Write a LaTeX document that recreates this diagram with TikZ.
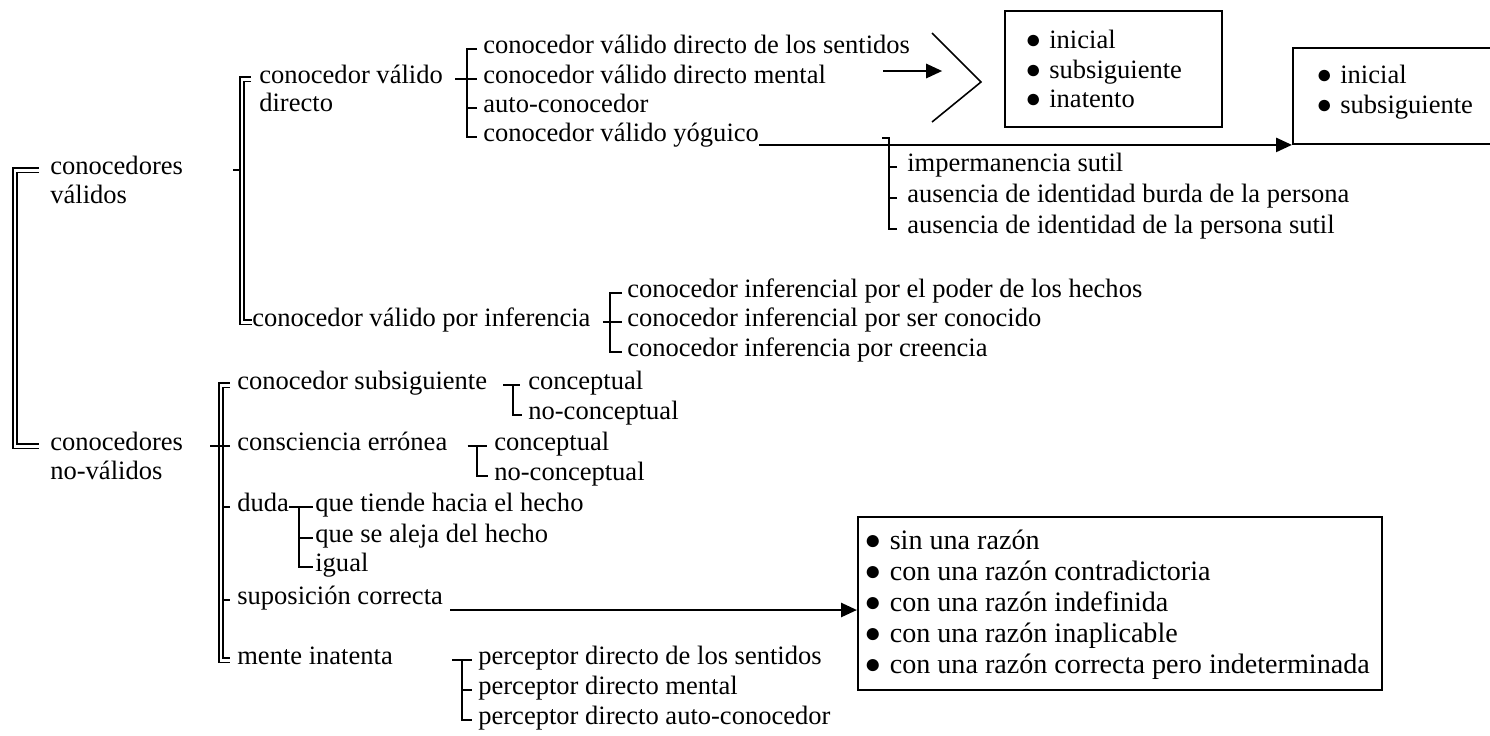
\documentclass[tikz,border=0pt]{standalone}
\usepackage{fontspec}
\setmainfont{Liberation Serif}
\usetikzlibrary{arrows.meta}
\newcommand{\bl}{●\hspace{0.3em}}

\begin{document}
\begin{tikzpicture}[x=0.02cm, y=-0.02cm,
    font=\fontsize{15.1pt}{18pt}\selectfont,
    lab/.style={inner sep=0pt, anchor=west, text height=1ex, text depth=0pt},
    brk/.style={draw=black, line width=1.1pt},
    dbl/.style={draw=black, double, line width=0.7pt, double distance=1.7pt},
    thn/.style={draw=black, line width=0.9pt},
    arr/.style={draw=black, line width=1.5pt, -{Triangle[length=0.32cm,width=0.28cm]}},
    box/.style={draw=black, line width=1.1pt, anchor=north west, inner sep=0pt},
    lst/.style={anchor=west, align=left, inner sep=0pt}]
  \useasboundingbox (0,0) rectangle (1490,735);

  % first level
  \node[lab] (cv)  at (50,170) {conocedores};
  \node[lab] (cv2) at (50,199) {válidos};
  \node[lab] (cn)  at (50,446) {conocedores};
  \node[lab] (cn2) at (50,475) {no-válidos};
  \coordinate (sp0) at (15,0);
  \draw[dbl] ([xshift=-0.22cm]cv.west) -- (cv.west -| sp0) -- (cn.west -| sp0)
        -- ([xshift=-0.22cm]cn.west);

  % valid knowers
  \node[lab] (cvd)  at (259,79)  {conocedor válido};
  \node[lab] (cvd2) at (259,107) {directo};
  \node[lab] (cvi)  at (252,322) {conocedor válido por inferencia};
  \coordinate (sp1) at (242,0);
  \draw[brk] ([xshift=1cm]cv.east) -- (cv.east -| sp1);
  \draw[dbl] ([xshift=-0.16cm]cvd.west) -- (cvd.west -| sp1) -- (cvi.west -| sp1) -- (cvi.west);

  % direct valid knowers
  \node[lab] (a1) at (483,49)  {conocedor válido directo de los sentidos};
  \node[lab] (a2) at (483,79)  {conocedor válido directo mental};
  \node[lab] (a3) at (483,108) {auto-conocedor};
  \node[lab] (a4) at (483,137) {conocedor válido yóguico};
  \draw[brk] ([xshift=-0.12cm]a1.west) -- ++(-0.2cm,0) |- ([xshift=-0.12cm]a4.west);
  \draw[brk] ([xshift=0.24cm]cvd.east) -- ([xshift=-0.12cm]a2.west);
  \draw[brk] ([xshift=-0.12cm]a3.west) -- ++(-0.2cm,0);

  \coordinate (chv) at (981,82);
  \draw[thn] ([shift={(-49,-49)}]chv) -- (chv) -- ([shift={(-49,40)}]chv);
  \draw[arr] ([xshift=1.14cm,yshift=0.16cm]a2.east) -- ++(1.18cm,0);
  \node[box, minimum width=4.34cm, minimum height=2.32cm] (bx1) at (1004,10) {};
  \node[lst, font=\fontsize{15.1pt}{16.6pt}\selectfont] (bx1t) at (1025,69)
    {\bl inicial\\\bl subsiguiente\\\bl inatento};

  \node[box, minimum width=4.36cm, minimum height=1.92cm] (bx2) at (1292,47) {};
  \node[lst, font=\fontsize{15.1pt}{17pt}\selectfont] (bx2t) at (1316,92)
    {\bl inicial\\\bl subsiguiente};
  \draw[arr] (a4.east |- bx2.south west) -- (bx2.south west);

  \node[lab] (b1) at (907,167) {impermanencia sutil};
  \node[lab] (b2) at (907,198) {ausencia de identidad burda de la persona};
  \node[lab] (b3) at (907,229) {ausencia de identidad de la persona sutil};
  \draw[brk] ([xshift=-0.2cm]b3.west) -- ++(-0.16cm,0) |- ([xshift=-0.5cm,yshift=0.58cm]b1.west);
  \draw[brk] ([xshift=-0.2cm]b1.west) -- ++(-0.16cm,0);
  \draw[brk] ([xshift=-0.2cm]b2.west) -- ++(-0.16cm,0);

  % inferential
  \node[lab] (c1) at (627,293) {conocedor inferencial por el poder de los hechos};
  \node[lab] (c2) at (627,322) {conocedor inferencial por ser conocido};
  \node[lab] (c3) at (627,352) {conocedor inferencia por creencia};
  \draw[brk] ([xshift=-0.1cm]c1.west) -- ++(-0.24cm,0) |- ([xshift=-0.1cm]c3.west);
  \draw[brk] ([xshift=0.24cm]cvi.east) -- ([xshift=-0.1cm]c2.west);

  % non-valid knowers
  \node[lab] (cs) at (237,385) {conocedor subsiguiente};
  \node[lab] (ce) at (237,446) {consciencia errónea};
  \node[lab] (du) at (237,507) {duda};
  \node[lab] (sc) at (237,600) {suposición correcta};
  \node[lab] (mi) at (237,660) {mente inatenta};
  \coordinate (sp2) at (221,0);
  \foreach \n in {du,sc}
    \draw[brk] (\n.west -| sp2) -- ([xshift=-0.14cm]\n.west);
  \draw[dbl] ([xshift=-0.14cm]cs.west) -- (cs.west -| sp2) -- (mi.west -| sp2)
        -- ([xshift=-0.14cm]mi.west);
  \draw[brk] ([xshift=0.54cm]cn.east) -- ([xshift=-0.14cm]ce.west);

  \node[lab] (d1) at (528,385) {conceptual};
  \node[lab] (d2) at (528,415) {no-conceptual};
  \draw[brk] ([xshift=0.32cm]cs.east) -- ([xshift=-0.16cm]d1.west);
  \draw[brk] ([xshift=-0.3cm]d1.west) |- ([xshift=-0.12cm]d2.west);

  \node[lab] (e1) at (494,446) {conceptual};
  \node[lab] (e2) at (494,476) {no-conceptual};
  \draw[brk] ([xshift=0.4cm]ce.east) -- ([xshift=-0.14cm]e1.west);
  \draw[brk] ([xshift=-0.34cm]e1.west) |- ([xshift=-0.12cm]e2.west);

  \node[lab] (f1) at (315,507) {que tiende hacia el hecho};
  \node[lab] (f2) at (315,538) {que se aleja del hecho};
  \node[lab] (f3) at (315,567) {igual};
  \draw[brk] (du.east) -- ([xshift=-0.04cm]f1.west);
  \draw[brk] ([xshift=-0.32cm]f1.west) |- ([xshift=-0.04cm]f3.west);
  \draw[brk] ([xshift=-0.32cm]f2.west) -- ([xshift=-0.04cm]f2.west);

  \node[lab] (g1) at (478,660) {perceptor directo de los sentidos};
  \node[lab] (g2) at (478,690) {perceptor directo mental};
  \node[lab] (g3) at (478,720) {perceptor directo auto-conocedor};
  \draw[brk] ([xshift=1.18cm]mi.east) -- ([xshift=-0.12cm]g1.west);
  \draw[brk] ([xshift=-0.32cm]g1.west) |- ([xshift=-0.12cm]g3.west);
  \draw[brk] ([xshift=-0.32cm]g2.west) -- ([xshift=-0.12cm]g2.west);

  \node[box, minimum width=10.48cm, minimum height=3.46cm] (bx3) at (857,516) {};
  \node[lst, font=\fontsize{16pt}{17.6pt}\selectfont] (bx3t) at (864,605)
    {\bl sin una razón\\\bl con una razón contradictoria\\
     \bl con una razón indefinida\\\bl con una razón inaplicable\\
     \bl con una razón correcta pero indeterminada};
  \coordinate (sc0) at ([xshift=0.14cm,yshift=-0.2cm]sc.east);
  \draw[arr] (sc0) -- (sc0 -| bx3.west);
\end{tikzpicture}
\end{document}
